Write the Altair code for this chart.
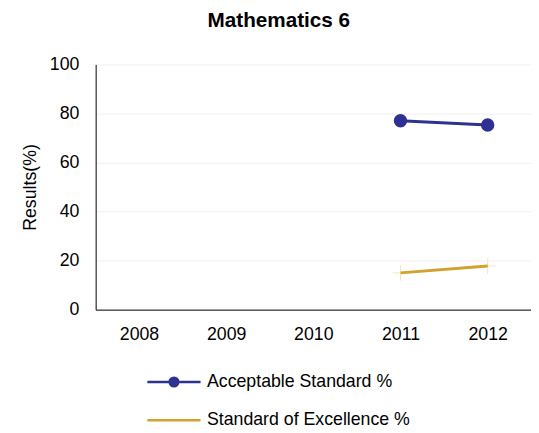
import altair as alt
import pandas as pd

years = ["2008", "2009", "2010", "2011", "2012"]
acceptable = [None, None, None, 77.0, 75.3]
excellence = [None, None, None, 15.0, 17.8]
series_names = ["Acceptable Standard %", "Standard of Excellence %"]
colors = ["#2e3192", "#d4a02f"]

rows = []
for y, a, e in zip(years, acceptable, excellence):
    if a is not None:
        rows.append({"year": y, "series": series_names[0], "value": a})
    if e is not None:
        rows.append({"year": y, "series": series_names[1], "value": e})
df = pd.DataFrame(rows)

FONT = "Liberation Sans"

x_enc = alt.X("year:O", scale=alt.Scale(domain=years, type="point", padding=0.497),
              axis=alt.Axis(title=None, labelAngle=0, ticks=False, labelPadding=16,
                            labelFontSize=18, labelColor="#000", domainColor="#000",
                            grid=False))
y_enc = alt.Y("value:Q", scale=alt.Scale(domain=[0, 100]),
              axis=alt.Axis(title="Results(%)", values=[0, 20, 40, 60, 80, 100], ticks=False,
                            labelPadding=17, labelFontSize=18, labelColor="#000",
                            titleFontSize=18, titleFontWeight="normal", titleColor="#000",
                            titlePadding=10, domainColor="#000", gridColor="#f0f0f0"))

# legend glyphs: a line with a (stroked-solid) circle, and a plain line
path_circle = ("M-3.375,0L3.375,0"
               "M0.55,0A0.55,0.55 0 1,1 -0.55,0A0.55,0.55 0 1,1 0.55,0"
               "M0.32,0A0.32,0.32 0 1,1 -0.32,0A0.32,0.32 0 1,1 0.32,0"
               "M0.1,0A0.1,0.1 0 1,1 -0.1,0A0.1,0.1 0 1,1 0.1,0")
path_line = "M-3.375,0L3.375,0"

legend = alt.Legend(
    orient="none", legendX=70, legendY=313, direction="vertical", title=None,
    labelFontSize=18, labelColor="#000", labelFont=FONT, labelLimit=0, symbolSize=256,
    symbolStrokeWidth=2.5, rowPadding=19.7, labelOffset=24, padding=0,
)

base = alt.Chart(df)

legend_layer = base.transform_filter("false").mark_point(
    filled=False, opacity=1, strokeWidth=2.5).encode(
    x=x_enc, y=y_enc,
    color=alt.Color("series:N", scale=alt.Scale(domain=series_names, range=colors), legend=legend),
    shape=alt.Shape("series:N", scale=alt.Scale(domain=series_names, range=[path_circle, path_line]),
                    legend=legend),
)

line_acc = base.transform_filter(alt.datum.series == series_names[0]).mark_line(
    strokeWidth=3, color=colors[0]).encode(x=x_enc, y=y_enc)
line_exc = base.transform_filter(alt.datum.series == series_names[1]).mark_line(
    strokeWidth=3, color=colors[1]).encode(x=x_enc, y=y_enc)

pts = base.transform_filter(alt.datum.series == series_names[0]).mark_point(
    filled=True, size=185, opacity=1, color=colors[0]).encode(x=x_enc, y=y_enc)

crosses = base.transform_filter(alt.datum.series == series_names[1]).mark_point(
    shape="M-1,0L1,0M0,-1L0,1", size=256, strokeWidth=1, color="#f5e3c0", opacity=1,
    filled=False).encode(x=x_enc, y=y_enc)

chart = alt.layer(crosses, line_exc, line_acc, pts, legend_layer).properties(
    width=442, height=249,
    title=alt.TitleParams("Mathematics 6", fontSize=21, fontWeight="bold", font=FONT,
                          color="#000", offset=25, dx=-35),
    padding={"left": 13, "top": -1, "right": 0, "bottom": 0},
).configure(font=FONT).configure_view(stroke=None)

chart.save("out.html", embed_options={"renderer": "svg", "actions": False})
